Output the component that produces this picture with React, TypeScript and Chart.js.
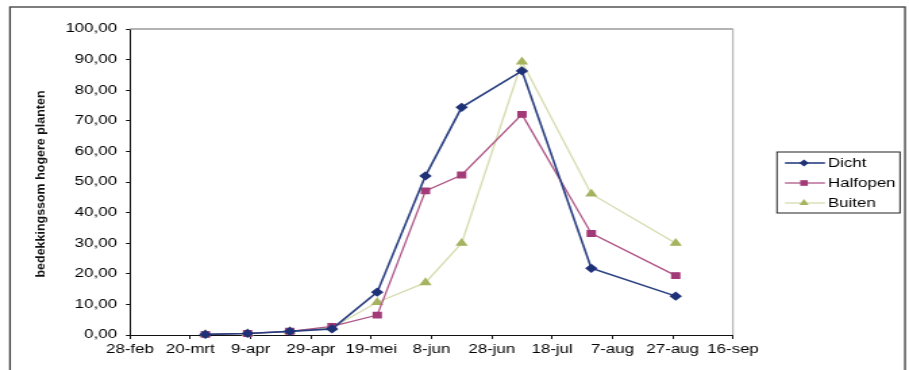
import React, { useEffect, useRef } from "react";
import { Chart, registerables } from "chart.js";

Chart.register(...registerables);

// Observation dates (day-month, Dutch month abbreviations)
const sampleDates = ["25-mrt", "8-apr", "22-apr", "6-mei", "21-mei", "6-jun", "18-jun", "8-jul", "31-jul", "28-aug"];

// Cover of the taller plants per site type
const dicht = [0.2, 0.5, 1.2, 2.0, 14.0, 52.0, 74.4, 86.3, 21.8, 12.7];
const halfopen = [0.2, 0.5, 1.2, 2.8, 6.5, 47.1, 52.3, 72.1, 33.2, 19.4];
const buiten = [0.2, 0.5, 1.2, 2.4, 10.7, 17.1, 30.0, 89.3, 46.1, 30.0];

const seriesNames = ["Dicht", "Halfopen", "Buiten"];

const xTickLabels = ["28-feb", "20-mrt", "9-apr", "29-apr", "19-mei", "8-jun", "28-jun", "18-jul", "7-aug", "27-aug", "16-sep"];

const yTitle = "bedekkingssom hogere planten";

const MONTHS = ["jan", "feb", "mrt", "apr", "mei", "jun", "jul", "aug", "sep", "okt", "nov", "dec"];
const MONTH_START = [0, 31, 59, 90, 120, 151, 181, 212, 243, 273, 304, 334];

// day number counted from 28 February
function dayOffset(label: string): number {
  const [d, m] = label.split("-");
  const idx = MONTHS.indexOf(m);
  return MONTH_START[idx] + Number(d) - 59;
}

const FONT = "'Liberation Sans', Arial, sans-serif";

// drawing surface is rendered narrow and widened by CSS
const CSS_W = 909;
const CSS_H = 370;
const CANVAS_W = 673;
const SX = CSS_W / CANVAS_W;
const cx = (x: number) => x / SX;

const COLORS = {
  dicht: { line: "#2a3f80", point: "#1f3278" },
  halfopen: { line: "#ad5585", point: "#a33a78" },
  buiten: { line: "#d5dcae", point: "#a6b35f" },
};

function drawMarker(ctx: CanvasRenderingContext2D, style: string, x: number, y: number, r: number) {
  ctx.beginPath();
  if (style === "rectRot") {
    ctx.moveTo(x, y - r);
    ctx.lineTo(x + r, y);
    ctx.lineTo(x, y + r);
    ctx.lineTo(x - r, y);
  } else if (style === "rect") {
    const s = r * Math.SQRT1_2;
    ctx.rect(x - s, y - s, 2 * s, 2 * s);
  } else {
    ctx.moveTo(x, y - r);
    ctx.lineTo(x + r * 0.866, y + r * 0.5);
    ctx.lineTo(x - r * 0.866, y + r * 0.5);
  }
  ctx.closePath();
  ctx.fill();
}

const decorPlugin = {
  id: "decor",
  afterDraw(chart: any) {
    const ctx: CanvasRenderingContext2D = chart.ctx;
    const area = chart.chartArea;
    ctx.save();

    // outer frame
    ctx.strokeStyle = "#3a3a3a";
    ctx.lineWidth = 1.3;
    ctx.strokeRect(cx(10), 7, cx(905) - cx(10), 380);

    // plot border (top and right)
    ctx.strokeStyle = "#9a9a9a";
    ctx.lineWidth = 1.6;
    ctx.beginPath();
    ctx.moveTo(area.left, area.top);
    ctx.lineTo(area.right, area.top);
    ctx.stroke();
    ctx.lineWidth = 1;
    ctx.strokeStyle = "#a8a8a8";
    ctx.beginPath();
    ctx.moveTo(area.right, area.top);
    ctx.lineTo(area.right, area.bottom);
    ctx.stroke();

    // rotated axis title
    ctx.save();
    ctx.translate(cx(41), 184);
    ctx.rotate(-Math.PI / 2);
    ctx.font = `bold 9px ${FONT}`;
    const w = ctx.measureText(yTitle).width;
    ctx.scale(187 / w, 1);
    ctx.fillStyle = "#111";
    ctx.textAlign = "center";
    ctx.textBaseline = "middle";
    ctx.fillText(yTitle, 0, 0);
    ctx.restore();

    // legend
    const bx0 = cx(777), bx1 = cx(900);
    ctx.strokeStyle = "#222";
    ctx.lineWidth = 1;
    ctx.strokeRect(bx0, 152, bx1 - bx0, 61);
    chart.data.datasets.forEach((ds: any, i: number) => {
      const y = 163 + i * 20;
      ctx.strokeStyle = ds.borderColor;
      ctx.lineWidth = ds.borderWidth;
      ctx.beginPath();
      ctx.moveTo(cx(785), y);
      ctx.lineTo(cx(825), y);
      ctx.stroke();
      ctx.fillStyle = ds.pointBackgroundColor;
      drawMarker(ctx, ds.pointStyle, cx(804), y, ds.pointRadius);
      ctx.fillStyle = "#000";
      ctx.font = `12.5px ${FONT}`;
      ctx.textAlign = "left";
      ctx.textBaseline = "middle";
      ctx.fillText(ds.label, cx(828), y + 1);
    });

    ctx.restore();
  },
};

export default function App() {
  const ref = useRef<HTMLCanvasElement | null>(null);

  useEffect(() => {
    if (!ref.current) return;
    const xs = sampleDates.map(dayOffset);
    const toPoints = (vals: number[]) => vals.map((v, i) => ({ x: xs[i], y: v }));
    const tickByValue = new Map(xTickLabels.map((l) => [dayOffset(l), l]));

    const chart = new Chart(ref.current, {
      type: "line",
      data: {
        datasets: [
          {
            label: seriesNames[0],
            data: toPoints(dicht),
            borderColor: COLORS.dicht.line,
            backgroundColor: COLORS.dicht.point,
            pointBackgroundColor: COLORS.dicht.point,
            pointBorderColor: COLORS.dicht.point,
            pointStyle: "rectRot",
            pointRadius: 3.5,
            borderWidth: 1.6,
          },
          {
            label: seriesNames[1],
            data: toPoints(halfopen),
            borderColor: COLORS.halfopen.line,
            backgroundColor: COLORS.halfopen.point,
            pointBackgroundColor: COLORS.halfopen.point,
            pointBorderColor: COLORS.halfopen.point,
            pointStyle: "rect",
            pointRadius: 4,
            borderWidth: 1.3,
          },
          {
            label: seriesNames[2],
            data: toPoints(buiten),
            borderColor: COLORS.buiten.line,
            backgroundColor: COLORS.buiten.point,
            pointBackgroundColor: COLORS.buiten.point,
            pointBorderColor: COLORS.buiten.point,
            pointStyle: "triangle",
            pointRadius: 4,
            borderWidth: 1.3,
          },
        ],
      },
      options: {
        animation: false,
        responsive: false,
        devicePixelRatio: 1,
        layout: { padding: { left: 0, right: CANVAS_W - cx(733), top: 29, bottom: 0 } },
        plugins: { legend: { display: false }, tooltip: { enabled: false } },
        elements: { line: { tension: 0 } },
        datasets: { line: { clip: false } } as any,
        scales: {
          x: {
            type: "linear",
            min: dayOffset(xTickLabels[0]),
            max: dayOffset(xTickLabels[xTickLabels.length - 1]),
            afterFit: (s: any) => {
              s.height = 35;
            },
            ticks: {
              stepSize: 20,
              autoSkip: false,
              maxRotation: 0,
              padding: 3,
              color: "#000",
              font: { family: FONT, size: 12.5 },
              callback: (v: any) => tickByValue.get(Number(v)) ?? "",
            },
            grid: { display: true, drawOnChartArea: false, drawTicks: true, tickLength: 4, color: "#111" },
            border: { display: true, color: "#111", width: 1 },
          },
          y: {
            type: "linear",
            min: 0,
            max: 100,
            afterFit: (s: any) => {
              s.width = cx(130);
            },
            ticks: {
              stepSize: 10,
              autoSkip: false,
              padding: 6.6,
              color: "#000",
              font: { family: FONT, size: 12.5 },
              callback: (v: any) => Number(v).toFixed(2).replace(".", ","),
            },
            grid: { display: true, drawOnChartArea: false, drawTicks: true, tickLength: 3, color: "#111" },
            border: { display: true, color: "#111", width: 1 },
          },
        },
      },
      plugins: [decorPlugin],
    });
    return () => chart.destroy();
  }, []);

  return (
    <div style={{ position: "fixed", left: 0, top: 0, width: CSS_W, height: CSS_H, background: "#fff", overflow: "hidden" }}>
      <canvas ref={ref} width={CANVAS_W} height={CSS_H} style={{ width: CSS_W, height: CSS_H, display: "block" }} />
    </div>
  );
}
